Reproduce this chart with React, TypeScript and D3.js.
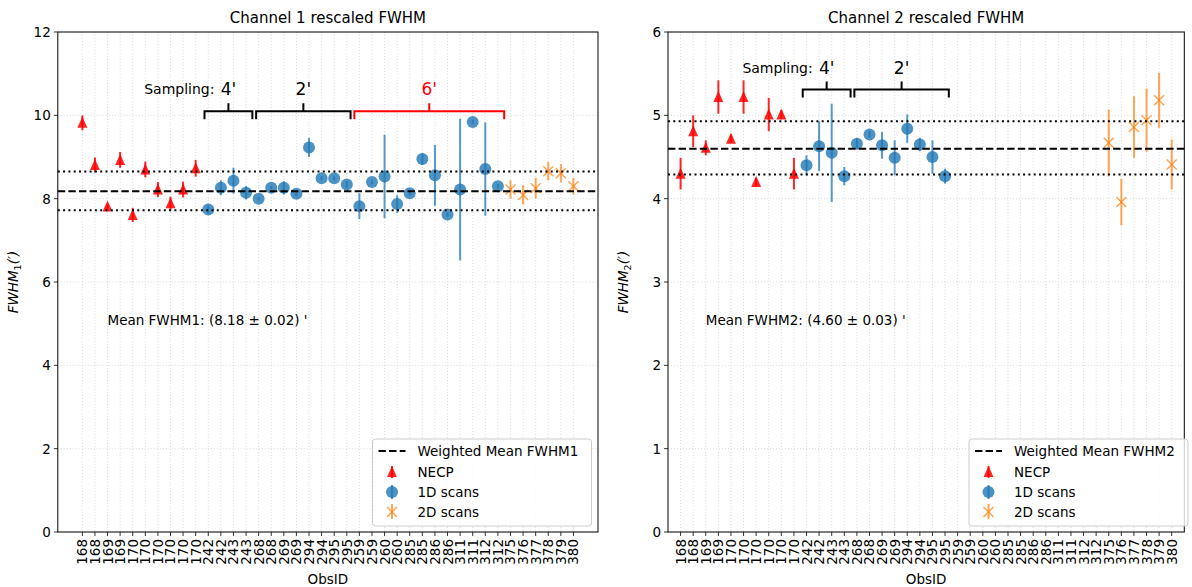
import React from 'react';
import * as d3 from 'd3';

const W = 1192;
const H = 587;
const FONT = '"DejaVu Sans", sans-serif';

// observation ids along the x axis (one per point)
const obsIds = ['168', '168', '169', '169', '170', '170', '170', '170', '170', '170',
  '242', '242', '243', '243', '268', '268', '269', '269', '294', '294', '295', '295',
  '259', '259', '260', '260', '285', '285', '286', '286', '311', '311', '312', '312',
  '375', '376', '377', '378', '379', '380'];

// channel 1
const necpFwhm1 = [9.82, 8.81, 7.81, 8.93, 7.61, 8.70, 8.22, 7.89, 8.22, 8.73];
const necpErr1 = [0.18, 0.18, 0.05, 0.19, 0.17, 0.19, 0.18, 0.16, 0.19, 0.2];
const scan1dFwhm1 = [7.74, 8.26, 8.43, 8.14, 8.0, 8.26, 8.26, 8.12, 9.23, 8.49, 8.49, 8.34,
  7.82, 8.40, 8.53, 7.87, 8.13, 8.95, 8.56, 7.62, 8.22, 9.84, 8.71, 8.30];
const scan1dErr1 = [0.1, 0.18, 0.31, 0.16, 0.04, 0.04, 0.16, 0.06, 0.23, 0.05, 0.05, 0.08,
  0.31, 0.05, 1.0, 0.21, 0.05, 0.14, 0.73, 0.05, 1.7, 0.05, 1.12, 0.05];
const scan2dFwhm1 = [8.22, 8.09, 8.25, 8.66, 8.61, 8.30];
const scan2dErr1 = [0.22, 0.23, 0.25, 0.22, 0.22, 0.2];

// channel 2 (1D scans from 259 onwards have no value)
const necpFwhm2 = [4.30, 4.81, 4.61, 5.22, 4.72, 5.22, 4.20, 5.01, 5.01, 4.30];
const necpErr2 = [0.19, 0.19, 0.09, 0.2, 0.05, 0.2, 0.05, 0.2, 0.05, 0.19];
const scan1dFwhm2 = [4.40, 4.63, 4.55, 4.27, 4.66, 4.77, 4.64, 4.49, 4.84, 4.65, 4.50, 4.27,
  null, null, null, null, null, null, null, null, null, null, null, null];
const scan1dErr2 = [0.12, 0.30, 0.59, 0.11, 0.06, 0.04, 0.16, 0.21, 0.17, 0.08, 0.2, 0.09,
  null, null, null, null, null, null, null, null, null, null, null, null];
const scan2dFwhm2 = [4.67, 3.96, 4.86, 4.94, 5.18, 4.41];
const scan2dErr2 = [0.40, 0.28, 0.37, 0.38, 0.33, 0.30];

// weighted means and the dotted band
const mean1 = 8.18;
const band1 = [7.72, 8.65];
const mean2 = 4.60;
const band2 = [4.29, 4.93];

// sampling brackets (x extents in index units)
const groups1 = [
  { label: "4'", from: 9.7, to: 13.5, color: '#000' },
  { label: "2'", from: 13.8, to: 21.3, color: '#000' },
  { label: "6'", from: 21.6, to: 33.5, color: '#ff0000' },
];
const groups2 = [
  { label: "4'", from: 9.7, to: 13.5, color: '#000' },
  { label: "2'", from: 13.8, to: 21.3, color: '#000' },
];

const RED = '#ff0000';
const BLUE = '#1f77b4';
const ORANGE = '#ff7f0e';

type Pt = { i: number; v: number | null; e: number | null };

function toPts(vals: (number | null)[], errs: (number | null)[], offset: number): Pt[] {
  return vals.map((v, k) => ({ i: k + offset, v, e: errs[k] }));
}

function Triangle({ cx, cy }: { cx: number; cy: number }) {
  return <path d={`M${cx},${cy - 6}L${cx + 5},${cy + 5}L${cx - 5},${cy + 5}Z`} fill={RED} fillOpacity={0.85} />;
}

function Cross({ cx, cy }: { cx: number; cy: number }) {
  return (
    <g stroke={ORANGE} strokeOpacity={0.7} strokeWidth={1.5}>
      <line x1={cx - 5} y1={cy - 5} x2={cx + 5} y2={cy + 5} />
      <line x1={cx - 5} y1={cy + 5} x2={cx + 5} y2={cy - 5} />
    </g>
  );
}

function Panel(props: any) {
  const { left, right, xDomain, yMax, yStep, title, sub, necp, s1, s2, mean, band, meanText, meanTextY, groups, bracketY, legendX, legendLabel } = props;
  const top = 32;
  const bottom = 532;
  const x = d3.scaleLinear().domain(xDomain).range([left, right]);
  const y = d3.scaleLinear().domain([0, yMax]).range([bottom, top]);
  const yTicks = d3.range(0, yMax + 0.001, yStep);
  const xTicks = d3.range(obsIds.length);
  const cxMid = (left + right) / 2;

  const errBar = (p: Pt, color: string, op: number, w: number) =>
    p.v == null || p.e == null ? null : (
      <line key={'e' + p.i} x1={x(p.i)} x2={x(p.i)} y1={y(p.v - p.e)} y2={y(p.v + p.e)}
        stroke={color} strokeOpacity={op} strokeWidth={w} />
    );

  const by = y(bracketY);
  return (
    <g fontFamily={FONT}>
      {/* grid */}
      <g stroke="#d3d3d3" strokeWidth={0.8} strokeDasharray="1,2">
        {xTicks.map(i => <line key={'gx' + i} x1={x(i)} x2={x(i)} y1={top} y2={bottom} />)}
        {yTicks.map(t => <line key={'gy' + t} x1={left} x2={right} y1={y(t)} y2={y(t)} />)}
      </g>

      {/* NECP */}
      {necp.map((p: Pt) => errBar(p, RED, 0.85, 2))}
      {necp.map((p: Pt) => <Triangle key={'t' + p.i} cx={x(p.i)} cy={y(p.v as number)} />)}
      {/* 1D scans */}
      {s1.map((p: Pt) => errBar(p, BLUE, 0.75, 2))}
      {s1.filter((p: Pt) => p.v != null).map((p: Pt) =>
        <circle key={'c' + p.i} cx={x(p.i)} cy={y(p.v as number)} r={6} fill={BLUE} fillOpacity={0.8} />)}
      {/* 2D scans */}
      {s2.map((p: Pt) => errBar(p, ORANGE, 0.7, 2))}
      {s2.map((p: Pt) => <Cross key={'x' + p.i} cx={x(p.i)} cy={y(p.v as number)} />)}

      {/* mean lines */}
      <line x1={left} x2={right} y1={y(mean)} y2={y(mean)} stroke="#000" strokeWidth={2} strokeDasharray="7.4,3.2" />
      {band.map((b: number) => (
        <line key={'b' + b} x1={left} x2={right} y1={y(b)} y2={y(b)} stroke="#000" strokeWidth={2} strokeDasharray="2,3.3" />
      ))}

      {/* sampling brackets */}
      {groups.map((g: any) => {
        const x1 = x(g.from);
        const x2 = x(g.to);
        const xm = (x1 + x2) / 2;
        return (
          <g key={g.label} stroke={g.color} strokeWidth={2} fill="none">
            <path d={`M${x1},${by + 8}V${by}H${x2}V${by + 8}M${xm},${by}V${by - 8}`} />
            <text x={xm} y={by - 22} fill={g.color} stroke="none" fontSize={17} textAnchor="middle" dominantBaseline="central">{g.label}</text>
          </g>
        );
      })}
      <text x={x(groups[0].from) + (x(groups[0].to) - x(groups[0].from)) / 2 - 14} y={by - 22} fontSize={14}
        textAnchor="end" dominantBaseline="central">Sampling:</text>

      <text x={x(2)} y={y(meanTextY) + 5} fontSize={13.5}>{meanText}</text>

      {/* frame */}
      <rect x={left} y={top} width={right - left} height={bottom - top} fill="none" stroke="#000" strokeWidth={1} />

      {/* y axis */}
      {yTicks.map(t => (
        <g key={'yt' + t}>
          <line x1={left - 4} x2={left} y1={y(t)} y2={y(t)} stroke="#000" strokeWidth={0.8} />
          <text x={left - 7} y={y(t)} fontSize={13.5} textAnchor="end" dominantBaseline="central">{t}</text>
        </g>
      ))}
      <text transform={`translate(${left - 40},${(top + bottom) / 2}) rotate(-90)`} fontSize={13.5} textAnchor="middle">
        <tspan fontStyle="italic">FWHM</tspan>
        <tspan fontSize={9.5} dy={3}>{sub}</tspan>
        <tspan fontStyle="italic" dy={-3}>(′)</tspan>
      </text>

      {/* x axis */}
      {xTicks.map(i => (
        <g key={'xt' + i}>
          <line x1={x(i)} x2={x(i)} y1={bottom} y2={bottom + 4} stroke="#000" strokeWidth={0.8} />
          <text transform={`translate(${x(i)},${bottom + 7}) rotate(-90)`} fontSize={13.5} textAnchor="end" dominantBaseline="central">{obsIds[i]}</text>
        </g>
      ))}
      <text x={cxMid} y={584} fontSize={13.5} textAnchor="middle">ObsID</text>

      <text x={cxMid} y={23} fontSize={15} textAnchor="middle">{title}</text>

      {/* legend */}
      <g transform={`translate(${legendX},439)`}>
        <rect x={0} y={0} width={219} height={87} rx={3} fill="#fff" fillOpacity={0.8} stroke="#cccccc" />
        <line x1={6} x2={33} y1={12} y2={12} stroke="#000" strokeWidth={2} strokeDasharray="7.4,3.2" />
        <text x={45} y={12} fontSize={13.5} dominantBaseline="central">{legendLabel}</text>
        <line x1={19.5} x2={19.5} y1={27} y2={39} stroke={RED} strokeOpacity={0.85} strokeWidth={2} />
        <Triangle cx={19.5} cy={33} />
        <text x={45} y={33} fontSize={13.5} dominantBaseline="central">NECP</text>
        <line x1={19.5} x2={19.5} y1={46} y2={60} stroke={BLUE} strokeOpacity={0.75} strokeWidth={2} />
        <circle cx={19.5} cy={53} r={6} fill={BLUE} fillOpacity={0.8} />
        <text x={45} y={53} fontSize={13.5} dominantBaseline="central">1D scans</text>
        <line x1={19.5} x2={19.5} y1={65} y2={80} stroke={ORANGE} strokeOpacity={0.7} strokeWidth={2} />
        <Cross cx={19.5} cy={73} />
        <text x={45} y={73} fontSize={13.5} dominantBaseline="central">2D scans</text>
      </g>
    </g>
  );
}

export default function App() {
  return (
    <svg width={W} height={H} style={{ position: 'absolute', left: 0, top: 0, background: '#fff' }}>
      <rect width={W} height={H} fill="#fff" />
      <Panel left={57.8} right={598} xDomain={[-1.95, 40.95]} yMax={12} yStep={2}
        title="Channel 1 rescaled FWHM" sub="1"
        necp={toPts(necpFwhm1, necpErr1, 0)} s1={toPts(scan1dFwhm1, scan1dErr1, 10)} s2={toPts(scan2dFwhm1, scan2dErr1, 34)}
        mean={mean1} band={band1} meanText="Mean FWHM1: (8.18 ± 0.02) '" meanTextY={5.1}
        groups={groups1} bracketY={10.1} legendX={372.5} legendLabel="Weighted Mean FWHM1" />
      <Panel left={668} right={1184.3} xDomain={[-1, 40]} yMax={6} yStep={1}
        title="Channel 2 rescaled FWHM" sub="2"
        necp={toPts(necpFwhm2, necpErr2, 0)} s1={toPts(scan1dFwhm2, scan1dErr2, 10)} s2={toPts(scan2dFwhm2, scan2dErr2, 34)}
        mean={mean2} band={band2} meanText="Mean FWHM2: (4.60 ± 0.03) '" meanTextY={2.55}
        groups={groups2} bracketY={5.31} legendX={969} legendLabel="Weighted Mean FWHM2" />
    </svg>
  );
}
